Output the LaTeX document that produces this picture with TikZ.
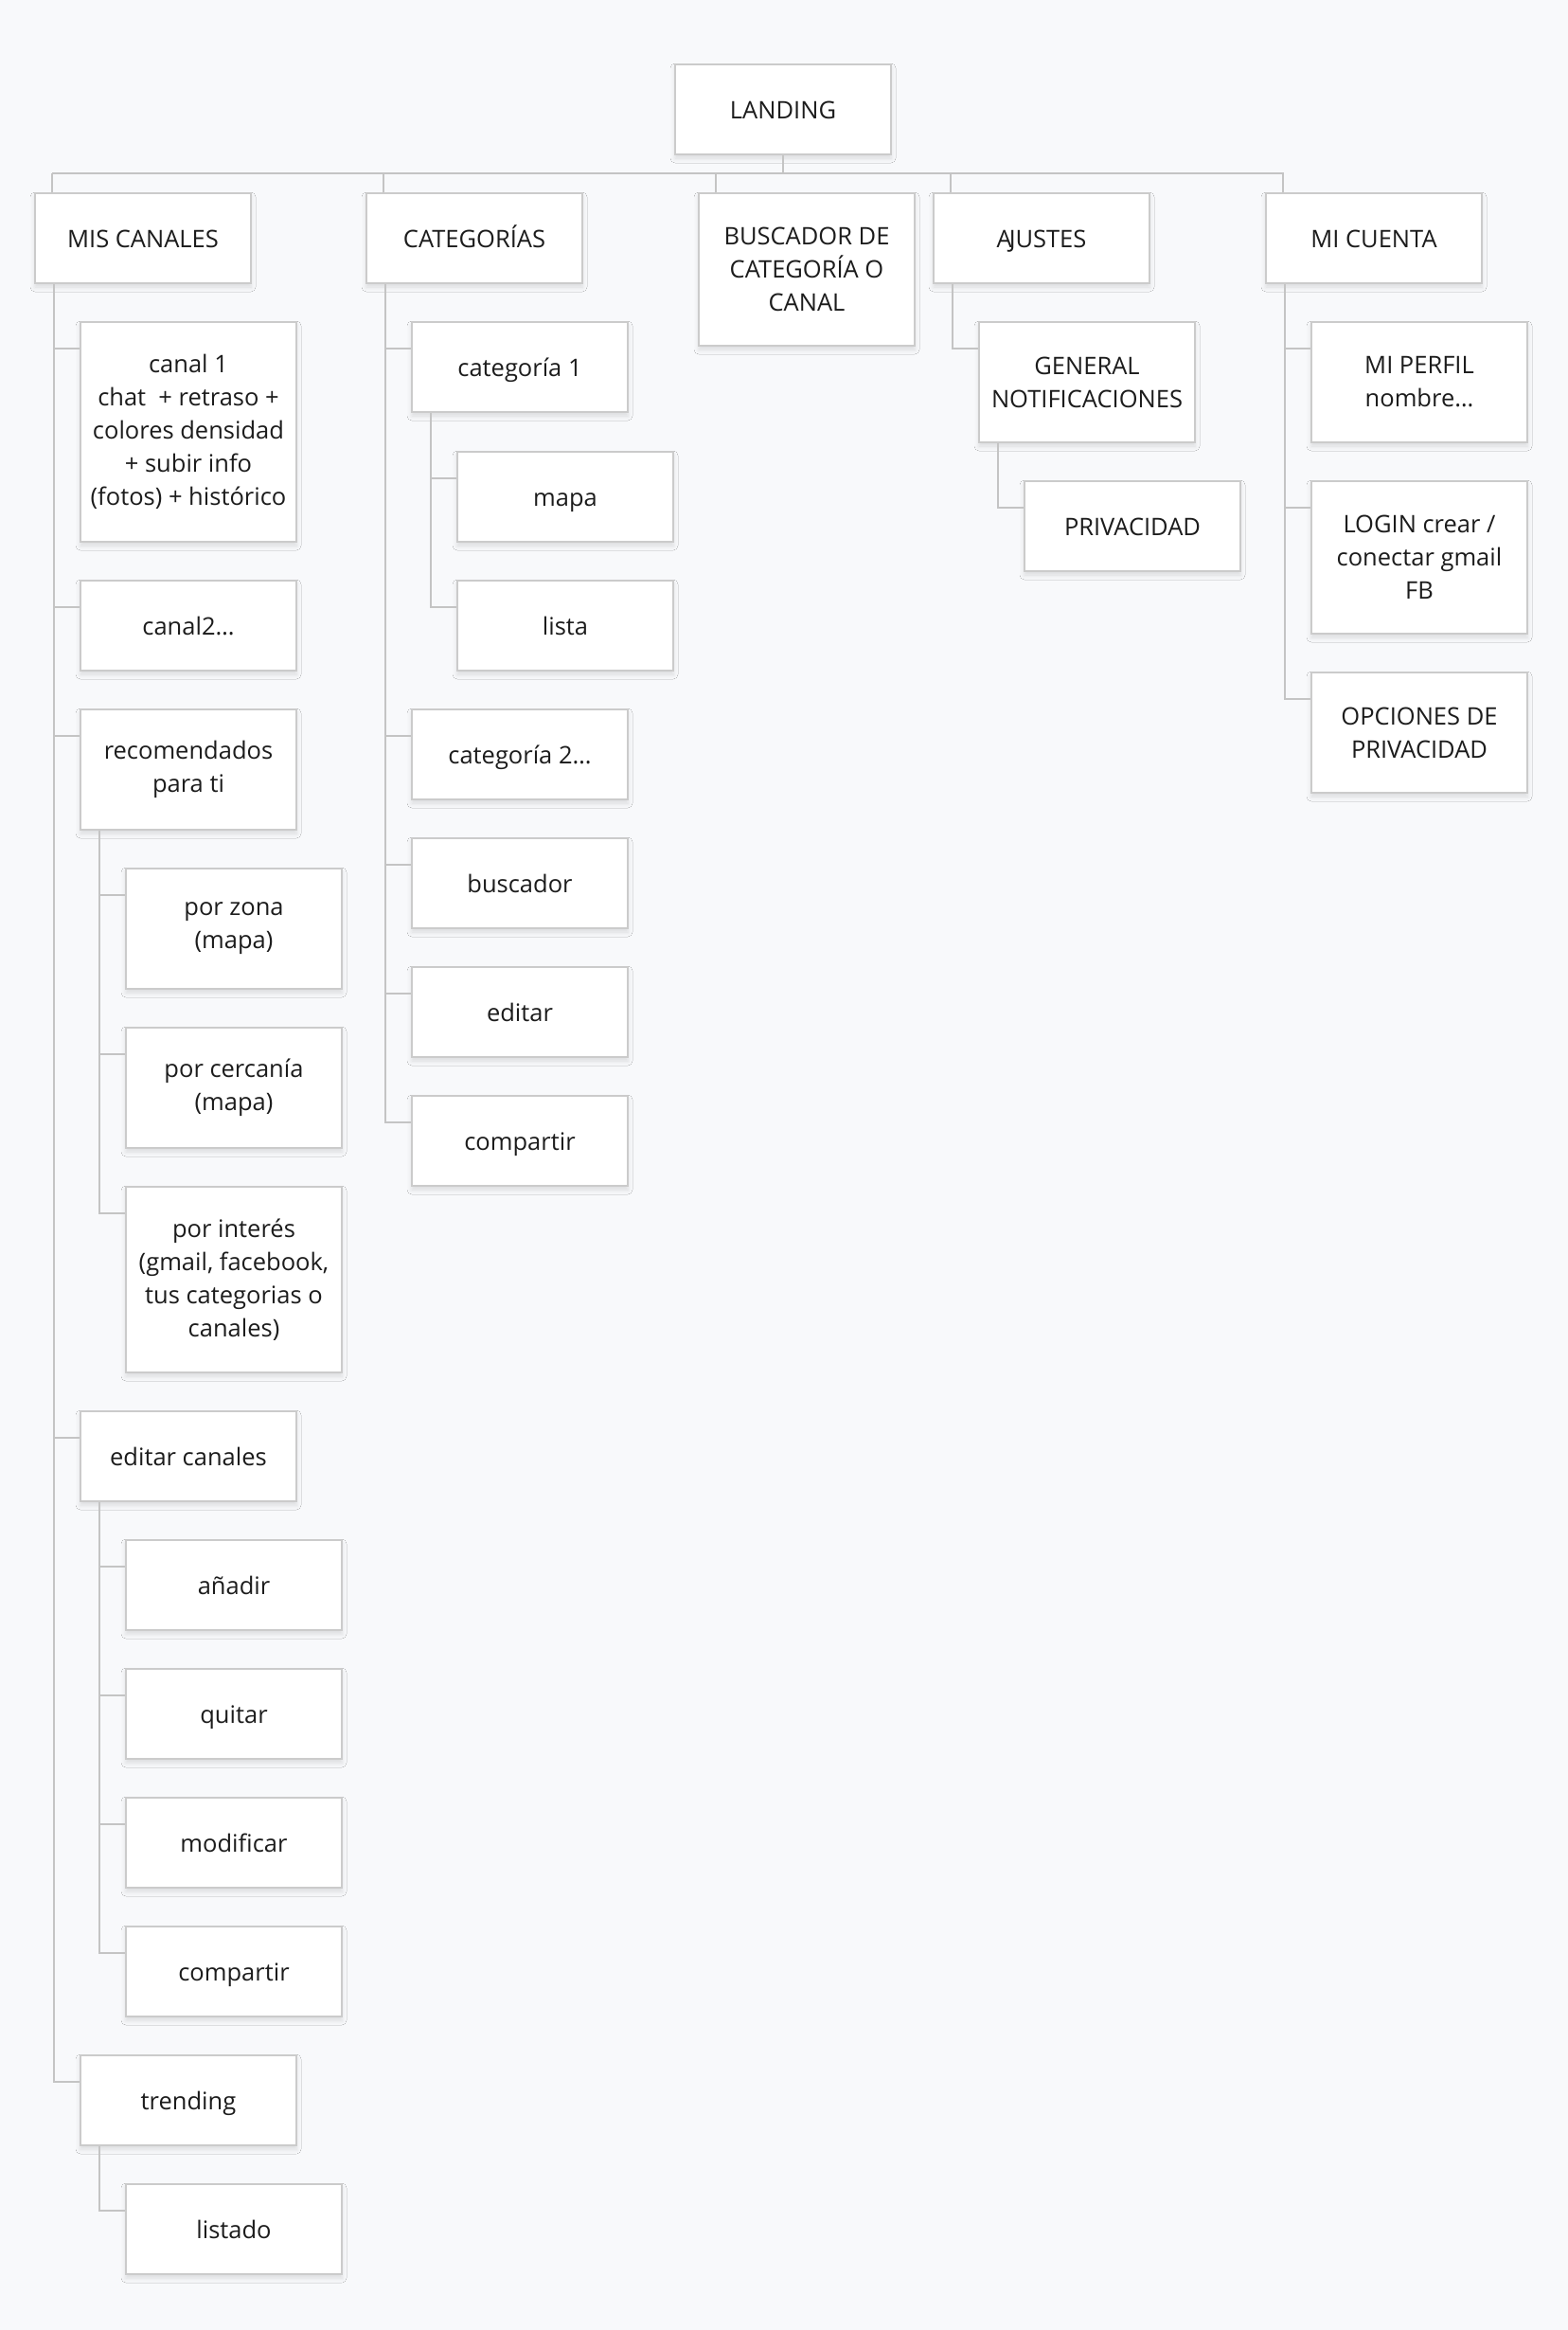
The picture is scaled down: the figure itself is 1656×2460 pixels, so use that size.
\documentclass[tikz,border=0pt]{standalone}
\usepackage{fontspec}
\setmainfont{Open Sans}
\usetikzlibrary{shadows.blur}

\definecolor{bg}{HTML}{F8F9FB}
\definecolor{boxline}{HTML}{CBCBCB}
\definecolor{linkgray}{HTML}{C4C4C4}
\definecolor{ink}{HTML}{1C1C1C}

\tikzset{
  card/.style={draw=boxline, line width=2pt, fill=white, anchor=north west,
    minimum width=228pt, inner sep=0pt, align=center,
    text=ink, font=\fontsize{25.5}{35}\selectfont,
    blur shadow={shadow xshift=0pt, shadow yshift=-4pt,
      shadow blur radius=5pt, shadow opacity=12}},
  box/.style={card, minimum height=95pt,
    execute at begin node={\vrule height 30pt depth 0pt width 0pt},
    execute at end node=\strut},
  mbox/.style={card, minimum height=#1,
    execute at begin node={\vrule height 30pt depth 0pt width 0pt},
    execute at end node={\vrule height 0pt depth 0pt width 0pt}},
  link/.style={draw=linkgray, line width=2pt}
}

\begin{document}
\begin{tikzpicture}[x=1pt, y=-1pt]
  \fill [bg] (0,0) rectangle (1656,2460);
  \useasboundingbox (0,0) rectangle (1656,2460);

  % top
  \node [box] (landing) at (712,67) {LANDING};
  \node [box] (mis) at (36,203) {MIS CANALES};
  \node [box] (cat) at (386,203) {CATEGORÍAS};
  \node [mbox=161pt] (busc) at (737,203) {BUSCADOR DE\\CATEGORÍA O\\CANAL};
  \node [box] (ajus) at (985,203) {A\kern-3pt JUSTES};
  \node [box] (cuenta) at (1336,203) {MI CUENTA};

  % mis canales
  \node [mbox=232pt] (canal1) at (84,339) {canal 1\\chat~ + retraso +\\colores densidad\\+ subir info\\(fotos) + histórico};
  \node [box] (canal2) at (84,612) {canal2…};
  \node [mbox=127pt] (recom) at (84,748) {recomendados\\para ti};
  \node [mbox=127pt] (zona) at (132,916) {por zona\\(mapa)};
  \node [mbox=127pt] (cerca) at (132,1084) {por cercanía\\(mapa)};
  \node [mbox=196pt] (interes) at (132,1252) {por interés\\(gmail, facebook,\\tus categorias o\\canales)};
  \node [box] (editcan) at (84,1489) {editar canales};
  \node [box] (anadir) at (132,1625) {añadir};
  \node [box] (quitar) at (132,1761) {quitar};
  \node [box] (modif) at (132,1897) {modificar};
  \node [box] (compcan) at (132,2033) {compartir};
  \node [box] (trend) at (84,2169) {trending};
  \node [box] (listado) at (132,2305) {listado};

  % categorias
  \node [box] (cat1) at (434,339) {categoría 1};
  \node [box] (mapa) at (482,476) {mapa};
  \node [box] (lista) at (482,612) {lista};
  \node [box] (cat2) at (434,748) {categoría 2…};
  \node [box] (buscador) at (434,884) {buscador};
  \node [box] (editar) at (434,1020) {editar};
  \node [box] (compcat) at (434,1156) {compartir};

  % ajustes, cuenta
  \node [mbox=127pt] (general) at (1033,339) {GENERAL\\NOTIFICACIONES};
  \node [box] (priv) at (1081,507) {PRIVACIDAD};
  \node [mbox=127pt] (perfil) at (1384,339) {MI PERFIL\\nombre…};
  \node [mbox=161pt] (login) at (1384,507) {LOGIN crear /\\conectar gmail\\FB};
  \node [mbox=127pt] (opciones) at (1384,709) {OPCIONES DE\\PRIVACIDAD};

  \coordinate (bus) at (55,183);
  \draw [link] (landing.south) -- (landing.south |- bus);
  \draw [link] ([xshift=19pt]mis.north west) |- (bus)
               ([xshift=19pt]cat.north west) |- (bus)
               ([xshift=19pt]busc.north west) |- (bus)
               ([xshift=19pt]ajus.north west) |- (bus)
               ([xshift=19pt]cuenta.north west) |- (bus);

  \draw [link] ([xshift=21pt]mis.south west) |- ([yshift=-29pt]canal1.north west)
               ([xshift=21pt]mis.south west) |- ([yshift=-29pt]canal2.north west)
               ([xshift=21pt]mis.south west) |- ([yshift=-29pt]recom.north west)
               ([xshift=21pt]mis.south west) |- ([yshift=-29pt]editcan.north west)
               ([xshift=21pt]mis.south west) |- ([yshift=-29pt]trend.north west);
  \draw [link] ([xshift=21pt]recom.south west) |- ([yshift=-29pt]zona.north west)
               ([xshift=21pt]recom.south west) |- ([yshift=-29pt]cerca.north west)
               ([xshift=21pt]recom.south west) |- ([yshift=-29pt]interes.north west);
  \draw [link] ([xshift=21pt]editcan.south west) |- ([yshift=-29pt]anadir.north west)
               ([xshift=21pt]editcan.south west) |- ([yshift=-29pt]quitar.north west)
               ([xshift=21pt]editcan.south west) |- ([yshift=-29pt]modif.north west)
               ([xshift=21pt]editcan.south west) |- ([yshift=-29pt]compcan.north west);
  \draw [link] ([xshift=21pt]trend.south west) |- ([yshift=-29pt]listado.north west);

  \draw [link] ([xshift=21pt]cat.south west) |- ([yshift=-29pt]cat1.north west)
               ([xshift=21pt]cat.south west) |- ([yshift=-29pt]cat2.north west)
               ([xshift=21pt]cat.south west) |- ([yshift=-29pt]buscador.north west)
               ([xshift=21pt]cat.south west) |- ([yshift=-29pt]editar.north west)
               ([xshift=21pt]cat.south west) |- ([yshift=-29pt]compcat.north west);
  \draw [link] ([xshift=21pt]cat1.south west) |- ([yshift=-29pt]mapa.north west)
               ([xshift=21pt]cat1.south west) |- ([yshift=-29pt]lista.north west);

  \draw [link] ([xshift=21pt]ajus.south west) |- ([yshift=-29pt]general.north west);
  \draw [link] ([xshift=21pt]general.south west) |- ([yshift=-29pt]priv.north west);
  \draw [link] ([xshift=21pt]cuenta.south west) |- ([yshift=-29pt]perfil.north west)
               ([xshift=21pt]cuenta.south west) |- ([yshift=-29pt]login.north west)
               ([xshift=21pt]cuenta.south west) |- ([yshift=-29pt]opciones.north west);
\end{tikzpicture}
\end{document}
